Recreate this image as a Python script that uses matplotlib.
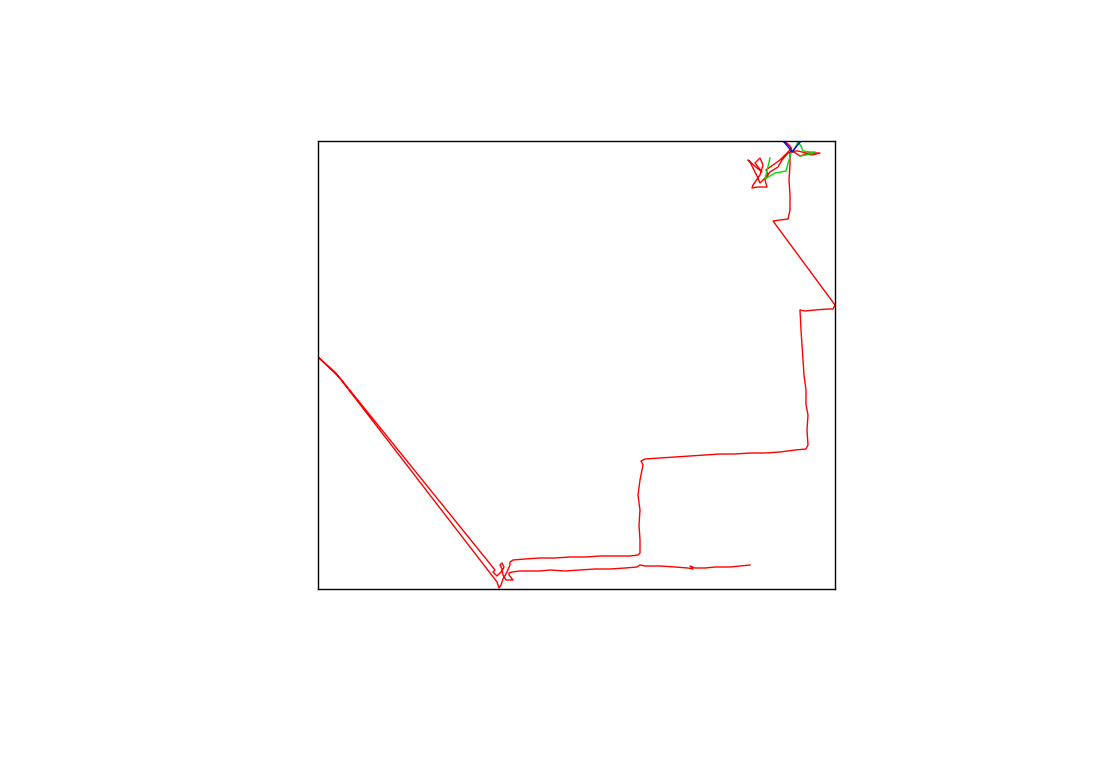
import matplotlib
matplotlib.use("Agg")
import matplotlib.pyplot as plt

# Track coordinates (plot units: x to the right, y downward)
red_x = [750, 740, 730, 715, 705, 695, 690, 693, 688, 675, 660, 645, 640, 637, 625, 610, 595,
         580, 565, 550, 540, 530, 520, 512, 509, 509, 513, 506, 503, 502, 500, 502, 504, 502,
         497, 493, 495, 340, 318, 335, 494, 497, 499, 501, 503, 506, 510, 510, 513, 525, 540,
         555, 570, 585, 600, 615, 630, 638, 640, 640, 639, 640, 638, 640, 643, 641, 645, 660,
         675, 690, 705, 720, 735, 750, 765, 780, 795, 806, 808, 807, 808, 806, 806, 804, 803,
         802, 801, 800, 805, 815, 828, 833, 835, 773, 780, 788, 790, 790, 789, 790, 790,
         791, 788, 783, 790, 792, 798, 806, 820, 812, 806, 800, 794, 788, 782, 778, 770, 765,
         760, 757, 750, 748, 757, 762, 755, 760, 763, 760, 753, 752, 758, 767, 765, 768, 766,
         773, 780, 785, 790]
red_y = [565, 566, 567, 567, 568, 568, 566, 569, 568, 567, 566, 566, 565, 567, 568, 569, 569,
         570, 571, 570, 571, 571, 571, 572, 573, 575, 580, 580, 575, 569, 565, 563, 567, 571,
         576, 572, 570, 378, 357, 372, 578, 582, 588, 585, 579, 574, 565, 562, 560, 559, 558,
         558, 557, 557, 556, 556, 556, 555, 553, 540, 525, 510, 495, 480, 465, 461, 459, 458,
         457, 456, 455, 454, 454, 453, 453, 452, 450, 449, 445, 430, 415, 405, 390, 375, 360,
         345, 330, 310, 311, 310, 309, 309, 305, 221, 220, 219, 210, 195, 180, 165, 155,
         148, 144, 141, 146, 151, 151, 153, 153, 155, 154, 156, 152, 153, 160, 167, 172, 178,
         183, 176, 162, 160, 168, 172, 163, 158, 165, 175, 185, 188, 187, 187, 180, 175, 170,
         165, 160, 155, 150]

green_x = [770, 765, 775, 786, 789, 791, 795, 798, 801, 803, 810, 815, 806, 800]
green_y = [158, 179, 173, 171, 160, 153, 148, 142, 146, 151, 152, 152, 155, 156]

blue_x = [784, 789, 792, 796, 801]
blue_y = [142, 148, 152, 147, 141]

fig = plt.figure(figsize=(10.94, 7.6), dpi=100)
ax = fig.add_axes([318 / 1094, 1 - 589 / 760, (835 - 318) / 1094, (589 - 141) / 760])
ax.plot(red_x, red_y, color="red", linewidth=1.0)
ax.plot(green_x, green_y, color="#00dd00", linewidth=1.0)
ax.plot(blue_x, blue_y, color="blue", linewidth=1.0)
ax.set_xlim(318, 835)
ax.set_ylim(589, 141)
ax.set_xticks([])
ax.set_yticks([])
for s in ax.spines.values():
    s.set_color("black")
    s.set_linewidth(1.0)
fig.savefig("out.png", dpi=100)
